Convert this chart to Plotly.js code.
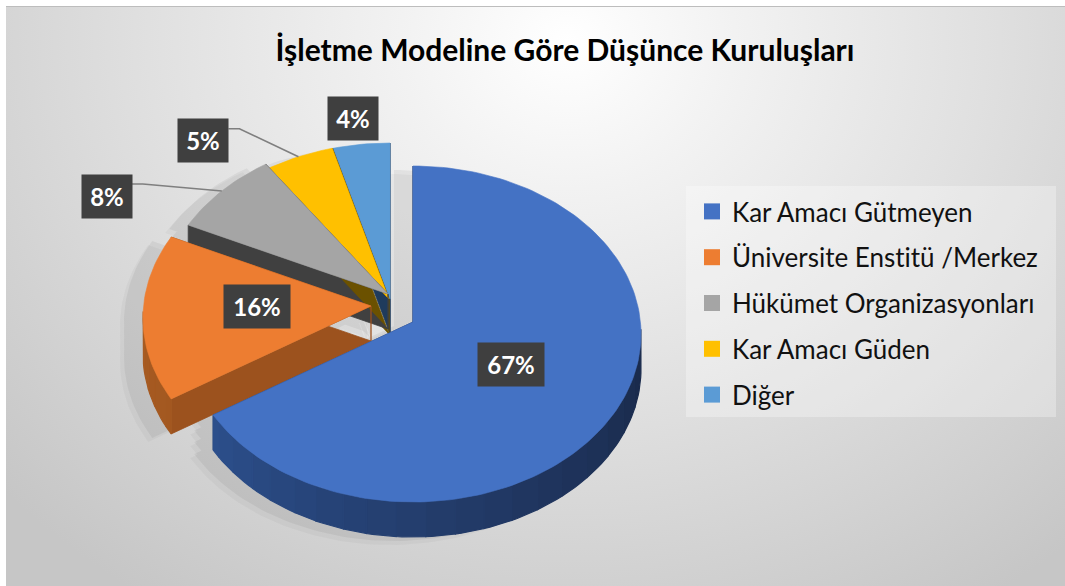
<!DOCTYPE html>
<html><head><meta charset="utf-8">
<script src="https://cdn.plot.ly/plotly-3.0.1.min.js"></script>
<style>
html,body{margin:0;padding:0;background:#fff;overflow:hidden;}
#bg{position:absolute;left:6px;top:6px;width:1059px;height:580px;border-top:1px solid #bdbdbd;
background:radial-gradient(ellipse 72% 115% at 53% 6%, #ffffff 0%, #f2f2f2 22%, #e0e0e0 55%, #c6c6c6 100%);}
#chart{position:absolute;left:0;top:0;width:1065px;height:586px;}
text{font-variant-ligatures:none;font-feature-settings:"liga" 0, "clig" 0;}
</style></head><body>
<div id="bg"></div><div id="chart"></div>
<script>
// ---- data ----
const categories = ["Kar Amacı Gütmeyen","Üniversite Enstitü /Merkez","Hükümet Organizasyonları","Kar Amacı Güden","Diğer"];
const values = [67,16,8,5,4];
const titleText = "İşletme Modeline Göre Düşünce Kuruluşları";

// ---- style ----
const colors = ["#4472C4","#ED7D31","#A5A5A5","#FFC000","#5B9BD5"];
const wallLight = ["#30579a","#a85b22","#505050","#7a5e00","#2a5685"];
const wallDark  = ["#1a2a4b","#8e4a18","#3c3c3c","#5e4700","#1e3d60"];
const wallRad   = ["#22386a","#9c521e","#404040","#6b5100","#1f3b5c"];
const geo = {cx:413, cy:334, a:228, b:168, apexDy:-12, depth:35};
const explode = [[0,0],[-42,-16],[-25,-28],[-24,-23],[-23,-23]];
const labelStyle = [{r:0.5},{r:0.5},{r:1,dx:-115,dy:5,leader:true},{r:1,dx:-95,dy:-16,leader:true},{r:1,dx:-8,dy:-26}];
const FONT = "Lato, 'Open Sans', sans-serif";

const sum = values.reduce((s,v)=>s+v,0);
const rad = d => d*Math.PI/180;
const E = (th, off, r=1) => [geo.cx + off[0] + r*geo.a*Math.sin(rad(th)), geo.cy + off[1] - r*geo.b*Math.cos(rad(th))];
let acc = 0;
const slices = values.map((v,i)=>{const th0=acc, th1=acc+v/sum*360; acc=th1; return {i,th0,th1,mid:(th0+th1)/2,off:explode[i]};});

function hex2rgb(h){return [1,3,5].map(k=>parseInt(h.substr(k,2),16));}
function mix(c1,c2,t){const a=hex2rgb(c1),b=hex2rgb(c2);return 'rgb('+a.map((x,k)=>Math.round(x+(b[k]-x)*t)).join(',')+')';}
function apexOf(s){return [geo.cx+s.off[0], geo.cy+geo.apexDy+s.off[1]];}
function arcPts(s){
  const n=Math.max(2,Math.ceil((s.th1-s.th0)/1.5)); const pts=[];
  for(let k=0;k<=n;k++){const th=s.th0+(s.th1-s.th0)*k/n; pts.push({th,p:E(th,s.off)});}
  return pts;
}
function topPoly(s){const ap=apexOf(s);return [ap].concat(arcPts(s).map(o=>o.p)).concat([ap]);}

const traces = [];
// soft shadow (two faint layers)
[[-19,4,0.05],[-23,8,0.03]].forEach(([sx,sy,al])=>{
  const xs=[],ys=[];
  slices.forEach(s=>{
    const p=topPoly(s);
    [0,geo.depth*0.33,geo.depth*0.66,geo.depth].forEach(dd=>{p.forEach(q=>{xs.push(q[0]+sx);ys.push(q[1]+sy+dd);});xs.push(null);ys.push(null);});
  });
  traces.push({type:'scatter',x:xs,y:ys,mode:'lines',fill:'toself',fillcolor:'rgba(0,0,0,'+al+')',line:{width:0},hoverinfo:'skip',showlegend:false});
});

const NB=24;
const drawOrder=[4,3,2,1,0];
drawOrder.forEach(i=>{
  const s=slices[i];
  const ap=apexOf(s);
  const arc=arcPts(s);
  const d=geo.depth;
  // radial walls
  const rx=[],ry=[];
  [[ap,arc[0].p],[arc[arc.length-1].p,ap]].forEach(([a,b])=>{
    rx.push(a[0],b[0],b[0],a[0],a[0],null); ry.push(a[1],b[1],b[1]+d,a[1]+d,a[1],null);
  });
  traces.push({type:'scatter',x:rx,y:ry,mode:'lines',fill:'toself',fillcolor:wallRad[i],line:{color:wallRad[i],width:0.8},hoverinfo:'skip',showlegend:false});
  // outer walls: contiguous runs by shade bucket
  const runs=[];
  for(let k=0;k<arc.length-1;k++){
    const m=(((arc[k].th+arc[k+1].th)/2)%360+360)%360;
    if(m<=88||m>=272) continue;
    const t=Math.min(1,Math.max(0,(m-90)/180));
    const bi=Math.min(NB-1,Math.floor(Math.pow(t,1.2)*NB));
    const last=runs[runs.length-1];
    if(last&&last.bi===bi&&last.end===k){last.end=k+1;}
    else runs.push({bi,start:k,end:k+1});
  }
  runs.forEach(r=>{
    const top=arc.slice(r.start,r.end+1).map(o=>o.p);
    const xs=top.map(q=>q[0]).concat(top.slice().reverse().map(q=>q[0]));
    const ys=top.map(q=>q[1]).concat(top.slice().reverse().map(q=>q[1]+d));
    xs.push(xs[0]); ys.push(ys[0]);
    const c=mix(wallDark[i],wallLight[i],(r.bi+0.5)/NB);
    traces.push({type:'scatter',x:xs,y:ys,mode:'lines',fill:'toself',fillcolor:c,line:{color:c,width:1.2},hoverinfo:'skip',showlegend:false});
  });
  const p=topPoly(s);
  traces.push({type:'scatter',x:p.map(q=>q[0]),y:p.map(q=>q[1]),mode:'lines',fill:'toself',fillcolor:colors[i],
    line:{color:colors[i],width:0.6},name:categories[i],showlegend:false,
    hovertemplate:categories[i]+': '+values[i]+'<extra></extra>'});
});

// labels & leader lines
const annotations=[];
slices.forEach((s,i)=>{
  const st=labelStyle[i];
  const pct=Math.round(values[i]/sum*100)+'%';
  let lx,ly;
  if(st.r<1){
    const ap=apexOf(s);
    lx=ap[0]+st.r*geo.a*Math.sin(rad(s.mid)); ly=ap[1]-st.r*geo.b*Math.cos(rad(s.mid));
  } else {
    const t=E(s.mid,s.off); lx=t[0]+st.dx; ly=t[1]+st.dy;
    if(st.leader){
      const hw=pct.length>2?33:25;
      traces.push({type:'scatter',x:[lx+hw,lx+hw+11,t[0]],y:[ly-12,ly-12,t[1]],mode:'lines',line:{color:'#7f7f7f',width:1.6},hoverinfo:'skip',showlegend:false});
    }
  }
  annotations.push({x:lx,y:ly,xref:'x',yref:'y',text:'<b>'+pct+'</b>',showarrow:false,
    font:{family:FONT,size:24,color:'#ffffff'},bgcolor:'#3f3f3f',borderpad:6,
    width:pct.length>2?54:38,height:31,align:'center',valign:'middle'});
});

// legend entries
categories.forEach((c,i)=>{
  traces.push({type:'scatter',x:[null],y:[null],mode:'markers',marker:{symbol:'square',size:16,color:colors[i]},
    name:c,legendgroup:'g'+i,showlegend:true,hoverinfo:'skip'});
});

const layout={
  width:1065,height:586,margin:{l:0,r:0,t:0,b:0,pad:0},
  paper_bgcolor:'rgba(0,0,0,0)',plot_bgcolor:'rgba(0,0,0,0)',
  xaxis:{range:[0,1065],visible:false,fixedrange:true},
  yaxis:{range:[586,0],visible:false,fixedrange:true},
  title:{text:titleText,font:{family:FONT,size:30,color:'#000',weight:'bold'},x:565/1065,xanchor:'center',y:1-50/586,yanchor:'middle'},
  legend:{x:692/1065,xanchor:'left',y:1-188/586,yanchor:'top',bgcolor:'rgba(0,0,0,0)',
    font:{family:FONT,size:26,color:'#111'},traceorder:'grouped',tracegroupgap:9,itemwidth:30},
  shapes:[{type:'rect',xref:'x',yref:'y',x0:686,x1:1056,y0:186,y1:417,fillcolor:'rgba(255,255,255,0.3)',line:{width:0},layer:'below'}],
  annotations:annotations,
  showlegend:true
};
Plotly.newPlot('chart',traces,layout,{displayModeBar:false,staticPlot:true});
</script>
</body></html>
